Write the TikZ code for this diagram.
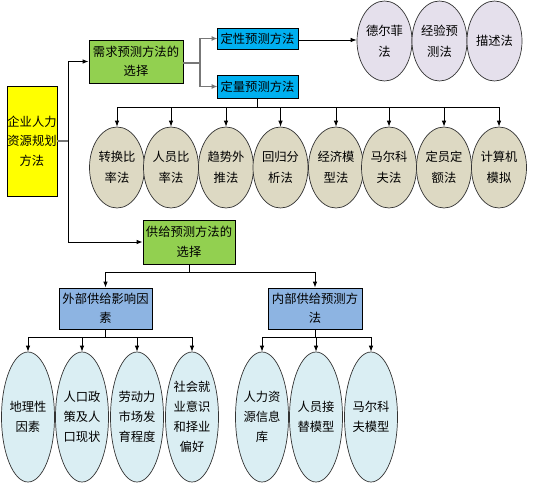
\documentclass[tikz,border=0pt]{standalone}
\usepackage{fontspec}
\newfontfamily\cjk{Noto Sans CJK SC}
\usetikzlibrary{shapes.geometric,arrows.meta}
\definecolor{cYellow}{HTML}{FFFF00}
\definecolor{cGreen}{HTML}{92D050}
\definecolor{cCyan}{HTML}{00B0F0}
\definecolor{cSteel}{HTML}{8DB4E2}
\definecolor{cLav}{HTML}{E5E0EC}
\definecolor{cTan}{HTML}{DDD9C3}
\definecolor{cLight}{HTML}{DAEEF3}
\definecolor{cLine}{HTML}{777777}
\tikzset{
  txt/.style={font=\cjk\fontsize{12.3}{19.5}\selectfont, align=center, inner sep=0pt},
  box/.style={txt, draw=black, line width=0.8pt, rectangle},
  ell/.style={txt, font=\cjk\fontsize{12.3}{21}\selectfont, draw=black!80, line width=0.7pt, ellipse},
  conn/.style={draw=black, line width=0.8pt},
  arr/.style={conn, -{Latex[length=6pt,width=4.5pt]}},
  gconn/.style={draw=cLine, line width=1.6pt},
  garr/.style={gconn, -{Latex[length=6pt,width=5pt]}, shorten >=-1pt},
}
\begin{document}
\begin{tikzpicture}[x=1pt,y=-1pt]
\useasboundingbox[fill=white] (0,0) rectangle (534,484);

% boxes
\node[box, fill=cYellow, minimum width=50pt, minimum height=110pt] (root) at (32,141) {企业人力\\资源规划\\方法};
\node[box, fill=cGreen, minimum width=94pt, minimum height=43pt] (g1) at (136,61.5) {需求预测方法的\\选择};
\node[box, fill=cCyan, minimum width=81pt, minimum height=21pt] (q1) at (257.5,38.5) {定性预测方法};
\node[box, fill=cCyan, minimum width=81pt, minimum height=23pt] (q2) at (257.5,86.5) {定量预测方法};
\node[box, fill=cGreen, minimum width=92pt, minimum height=44pt] (g2) at (189,242) {供给预测方法的\\选择};
\node[box, fill=cSteel, minimum width=93pt, minimum height=41pt] (ext) at (105.5,308.5) {外部供给影响因\\素};
\node[box, fill=cSteel, minimum width=94pt, minimum height=41pt] (int) at (315,308.5) {内部供给预测方\\法};

% top ellipses
\tikzset{topE/.style={ell, fill=cLav, minimum width=55pt, minimum height=80pt}}
\node[topE] (e1) at (384.5,41) {德尔菲\\法};
\node[topE] (e2) at (439.5,41) {经验预\\测法};
\node[topE] (e3) at (494.5,41) {描述法};

% tan ellipses
\tikzset{tanE/.style={ell, fill=cTan, minimum width=55pt, minimum height=81pt}}
\node[tanE] (t1) at (117,167.5) {转换比\\率法};
\node[tanE] (t2) at (171,167.5) {人员比\\率法};
\node[tanE] (t3) at (226,167.5) {趋势外\\推法};
\node[tanE] (t4) at (280.5,167.5) {回归分\\析法};
\node[tanE] (t5) at (336,167.5) {经济模\\型法};
\node[tanE] (t6) at (389,167.5) {马尔科\\夫法};
\node[tanE] (t7) at (444,167.5) {定员定\\额法};
\node[tanE] (t8) at (499,167.5) {计算机\\模拟};

% bottom ellipses
\tikzset{botE/.style={ell, fill=cLight, minimum width=53pt, minimum height=130pt, font=\cjk\fontsize{12.3}{20}\selectfont}}
\node[botE] (b1) at (28,417) {地理性\\因素};
\node[botE] (b2) at (82,417) {人口政\\策及人\\口现状};
\node[botE] (b3) at (137,417) {劳动力\\市场发\\育程度};
\node[botE] (b4) at (192,417) {社会就\\业意识\\和择业\\偏好};
\node[botE] (b5) at (262,417) {人力资\\源信息\\库};
\node[botE] (b6) at (316,417) {人员接\\替模型};
\node[botE] (b7) at (371,417) {马尔科\\夫模型};

% root connectors
\coordinate (j1) at (68,141);
\draw[gconn] (root.east) -- (j1);
\draw[arr] (j1) |- (g1.west);
\draw[arr] (j1) |- (g2.west);

% demand connectors
\coordinate (j2) at (200,63);
\draw[gconn] (g1.east |- j2) -- (j2);
\draw[garr] (j2) |- (q1.west);
\draw[garr] (j2) |- (q2.west);
\draw[arr] (q1.east |- 0,40) -- (e1.west |- 0,40);

% quantitative bus
\coordinate (j3) at (q2.south |- 0,107);
\draw[conn] (q2.south) -- (j3);
\draw[conn] (j3 -| t1.north) -- (j3 -| t8.north);
\foreach \t in {t1,t2,t3,t4,t5,t6,t7,t8}
  \draw[arr] (j3 -| \t.north) -- (\t.north);

% supply bus
\coordinate (j4) at (g2.south |- 0,272);
\draw[conn] (g2.south) -- (j4);
\draw[conn] (j4 -| ext.north) -- (j4 -| int.north);
\draw[arr] (j4 -| ext.north) -- (ext.north);
\draw[arr] (j4 -| int.north) -- (int.north);

% external bus
\coordinate (j5) at (ext.south |- 0,337);
\draw[conn] (ext.south) -- (j5);
\draw[conn] (j5 -| b1.north) -- (j5 -| b4.north);
\foreach \b in {b1,b2,b3,b4}
  \draw[arr] (j5 -| \b.north) -- (\b.north);

% internal bus
\coordinate (j6) at (int.south |- 0,337);
\draw[conn] (int.south) -- (j6);
\draw[conn] (j6 -| b5.north) -- (j6 -| b7.north);
\foreach \b in {b5,b6,b7}
  \draw[arr] (j6 -| \b.north) -- (\b.north);
\end{tikzpicture}
\end{document}
